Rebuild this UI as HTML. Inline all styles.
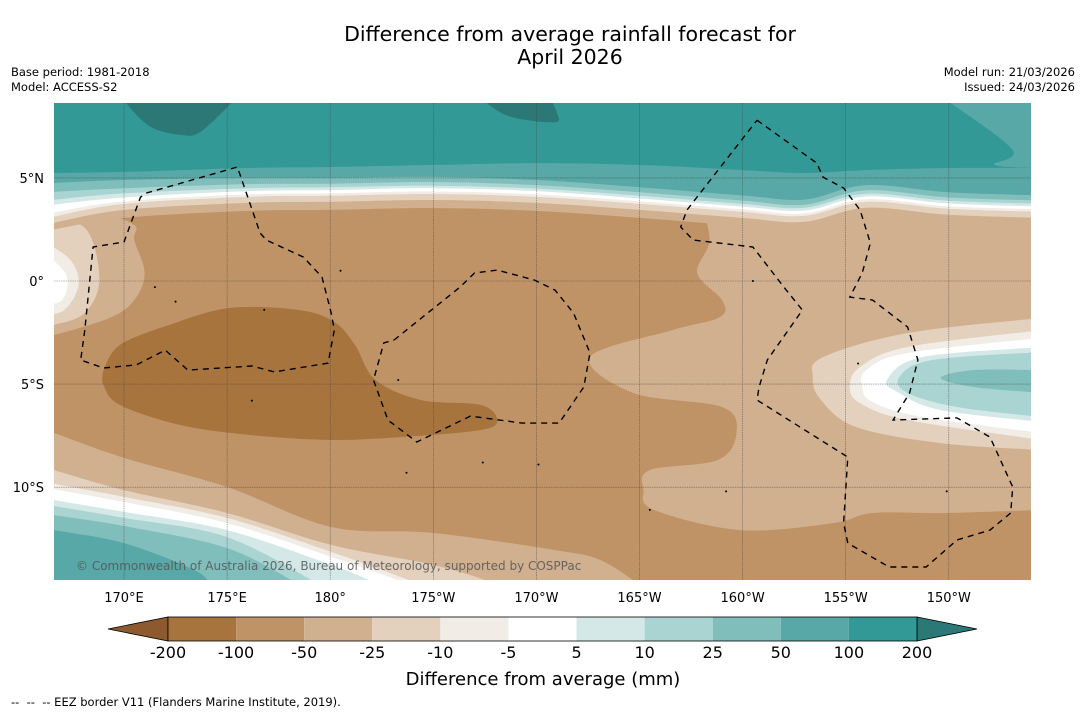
<!DOCTYPE html>
<html><head><meta charset="utf-8">
<style>
body{margin:0;background:#fff;width:1085px;height:713px;overflow:hidden;font-family:"Liberation Sans","DejaVu Sans",sans-serif;}
svg text{font-family:"DejaVu Sans","Liberation Sans",sans-serif;}
</style></head>
<body>
<svg id="chart" width="1085" height="713" xmlns="http://www.w3.org/2000/svg">
<text x="570" y="41" font-size="20.5" text-anchor="middle">Difference from average rainfall forecast for</text>
<text x="570" y="64" font-size="20.5" text-anchor="middle">April 2026</text>
<text x="11" y="76" font-size="11.5">Base period: 1981-2018</text>
<text x="11" y="91" font-size="11.5">Model: ACCESS-S2</text>
<text x="1075" y="76" font-size="11.5" text-anchor="end">Model run: 21/03/2026</text>
<text x="1075" y="91" font-size="11.5" text-anchor="end">Issued: 24/03/2026</text>
<defs><clipPath id="mapclip"><rect x="54" y="103" width="977" height="477"/></clipPath></defs>
<g id="map" clip-path="url(#mapclip)"></g>
<g id="axes"></g>
<g id="cbar"></g>
<text x="543" y="685" font-size="18" text-anchor="middle">Difference from average (mm)</text>
<text x="11" y="706" font-size="11.5" style="white-space:pre">--  --  -- EEZ border V11 (Flanders Marine Institute, 2019).</text>
</svg>
<script>
// ---- data ----
const levels = [-200,-100,-50,-25,-10,-5,5,10,25,50,100,200];
const bandColors = ['#a8743e','#bf9366','#d1b090','#e3d0bd','#f2ece6','#ffffff','#d4e9e7','#a9d4d2','#80bebc','#57a8a6','#339996'];
const lowExtColor = '#8c5a2e';
const highExtColor = '#2a7977';
const darkTeal = '#2b7876';
const gridLons = [170,175,180,185,190,195,200,205,210];
const gridLonLabels = ['170°E','175°E','180°','175°W','170°W','165°W','160°W','155°W','150°W'];
const gridLats = [5,0,-5,-10];
const gridLatLabels = ['5°N','0°','5°S','10°S'];
// north contour lines (lat at sample lons)
const northLons = [166.5,170,176,180,185,190,195,200,203,206,210,214.5];
const north100 = [5.24,5.29,5.48,5.53,5.63,5.72,5.63,5.38,5.24,5.38,5.48,5.48];
const north50  = [4.75,4.9,5.0,5.0,5.05,4.9,4.55,4.15,3.95,4.65,4.3,4.15];
const north25  = [4.32,4.5,4.7,4.72,4.8,4.65,4.3,3.9,3.7,4.4,4.05,3.9];
const north10  = [3.93,4.25,4.5,4.55,4.62,4.48,4.13,3.74,3.55,4.23,3.89,3.74];
const north5   = [3.69,4.05,4.36,4.41,4.5,4.36,4.0,3.61,3.42,4.1,3.76,3.61];
const northM5  = [3.3,3.86,4.2,4.25,4.34,4.2,3.86,3.47,3.28,3.96,3.62,3.47];
const northM10 = [3.1,3.74,4.08,4.13,4.22,4.08,3.74,3.35,3.16,3.84,3.5,3.35];
const northM25 = [2.8,3.45,3.79,3.84,3.93,3.79,3.45,3.06,2.87,3.55,3.21,3.06];
const northM50 = [2.48,3.06,3.4,3.45,3.54,3.4,3.06,2.67,2.48,3.16,2.82,2.67];
// south contour lines [lon,lat]
const southM50 = [[166,-7.2],[166.6,-7.37],[170,-8.58],[175,-9.99],[180.05,-11.93],[185,-12.22],[190.9,-13.05],[193.1,-13.53],[195,-14.74],[195.5,-15.2]];
const southM25 = [[166,-9.0],[166.6,-9.17],[170,-10.14],[175,-11.25],[180.05,-12.8],[185,-13.77],[188.2,-14.74],[189,-15.2]];
const southM10 = [[166,-9.7],[166.6,-9.84],[170,-10.47],[175,-11.49],[180.05,-13.14],[184.4,-14.74],[185,-15.2]];
const southM5  = [[166,-9.95],[166.6,-10.09],[170,-10.72],[175,-11.74],[180.05,-13.38],[183.9,-14.74],[184.5,-15.2]];
const south5   = [[166,-10.5],[166.6,-10.62],[170,-11.2],[175,-12.08],[180.05,-13.77],[182.4,-14.74],[183,-15.2]];
const south10  = [[166,-10.8],[166.6,-10.91],[170,-11.49],[175,-12.42],[179.5,-14.74],[180,-15.2]];
const south25  = [[166,-11.2],[166.6,-11.35],[170,-11.88],[175,-12.95],[178.5,-14.74],[179,-15.2]];
const south50  = [[166,-11.95],[166.6,-12.08],[170,-12.71],[173.4,-14.01],[174.2,-14.74],[174.6,-15.2]];
// west light anomaly
const westM50 = [[166.4,3.69],[168.8,3.35],[170.5,2.71],[170.5,1.99],[171,0.39],[170.5,-0.92],[169.3,-1.79],[166.6,-2.62],[166.0,-2.62]];
const westM25 = [[166.4,3.2],[168.2,2.47],[168.8,0.05],[168.1,-1.55],[166.6,-2.13],[166.0,-2.13]];
const westM10 = [[166.0,1.99],[167.4,1.02],[167.8,-0.19],[167.1,-1.41],[166.0,-1.65]];
const westM5  = [[166.0,1.5],[167.2,0.29],[167.0,-0.92],[166.0,-1.16]];
// dark brown core
const coreM100 = [[169.0,-4.32],[169.8,-3.1],[172.2,-2.13],[175.1,-1.31],[178.5,-1.41],[180.2,-1.99],[181.2,-3.1],[182.2,-4.8],[184.4,-5.77],[187.3,-6.01],[188.1,-6.74],[187.3,-7.23],[183.4,-7.57],[180,-7.71],[176.1,-7.47],[172.7,-6.98],[169.8,-6.01],[169.0,-5.04]];
// east light region
const eastM50 = [[197.9,3.93],[198.4,1.99],[197.8,0.39],[199.0,-0.92],[198.9,-1.75],[196.6,-2.38],[192.6,-3.69],[194.7,-5.43],[199.0,-6.11],[199.7,-7.37],[198.8,-8.68],[195.5,-9.17],[195.2,-10.14],[195.7,-11.1],[199.9,-12.08],[204.4,-11.74],[206.3,-11.25],[209.9,-11.25],[214.5,-11.1]];
// east wet anomaly
const eastM25 = [[214.5,-1.79],[208,-2.52],[203.9,-3.69],[203.4,-4.66],[203.8,-5.77],[205.5,-7.08],[209.6,-7.86],[214.5,-8.2]];
const eastM10 = [[214.5,-2.38],[208,-3.2],[205.7,-4.17],[205.2,-5.14],[205.7,-5.92],[208,-6.74],[214.5,-7.71]];
const eastM5  = [[214.5,-2.76],[208,-3.49],[206,-4.32],[205.8,-5.14],[206.3,-5.87],[208.7,-6.6],[214.5,-7.37]];
const east5   = [[214.5,-3.2],[208.7,-3.69],[207,-4.8],[207.6,-5.43],[209.6,-6.26],[214.5,-6.84]];
const east10  = [[214.5,-3.44],[209.2,-3.83],[207.6,-4.66],[208,-5.43],[210.4,-6.11],[214.5,-6.6]];
const east25  = [[214.5,-4.32],[211.2,-4.32],[209.6,-4.7],[211.2,-5.14],[214.5,-5.43]];
// top patches
const topRight50 = [[209.5,9],[210.1,8.63],[213.1,6.35],[212.2,5.63],[214.5,5.48]];
const darkPatch1 = [[170.0,9],[170.1,8.63],[171.3,7.47],[172.8,7.08],[173.7,7.23],[175.2,8.63],[175.3,9]];
const darkPatch2 = [[187.5,9],[187.6,8.63],[188.8,7.95],[190.9,7.7],[191,8.15],[190.8,8.63],[190.8,9]];
// EEZ borders
const eezA = [[168.1,-2.38],[167.9,-3.83],[169,-4.22],[170.6,-4.07],[172,-3.35],[173.1,-4.32],[176.2,-4.12],[177.3,-4.41],[179.9,-3.98],[180.2,-2.38],[180.05,-1.55],[179.6,0.19],[178.7,1.16],[176.9,1.99],[176.6,2.33],[175.5,5.53],[171.1,4.27],[170.8,4.07],[170,1.89],[168.5,1.65],[168.1,-2.38]];
const eezB = [[183.1,-2.86],[186.3,-0.29],[187,0.39],[188.1,0.53],[189.9,0.05],[190.9,-0.44],[191.8,-1.55],[192.6,-3.49],[192.3,-5.14],[191.1,-6.89],[189.3,-6.89],[186.8,-6.55],[184.2,-7.81],[182.8,-6.74],[182.1,-4.8],[182.6,-3.0],[183.1,-2.86]];
const eezC = [[200.7,7.8],[203.6,5.72],[203.9,5.04],[204.9,4.51],[205.7,3.44],[206.2,1.84],[205.8,0.39],[205.2,-0.78],[206.3,-0.92],[208,-2.23],[208.5,-3.83],[208.1,-5.43],[207.3,-6.74],[210.4,-6.64],[212,-7.57],[213.1,-9.99],[213,-11.25],[212,-12.08],[210.4,-12.56],[208.9,-13.87],[207.1,-13.87],[205.1,-12.71],[204.9,-11.74],[205.1,-8.54],[200.7,-5.77],[200.8,-5.14],[201.2,-3.83],[202.9,-1.41],[202,-0.29],[200.5,1.65],[197.6,1.99],[197,2.62],[197.3,3.44],[200.7,7.8]];
const islands = [[180.5,0.5],[183.3,-4.8],[190.1,-8.9],[195.5,-11.1],[199.2,-10.2],[205.6,-4.0],[200.5,0.0],[172.5,-1.0],[171.5,-0.3],[176.2,-5.8],[183.7,-9.3],[209.9,-10.2],[187.4,-8.8],[176.8,-1.4]];

// ---- axis functions ----
function X(lon){return 124+(lon-170)*20.62;}
function Y(lat){return 281-lat*20.62;}
const NS='http://www.w3.org/2000/svg';
const map=document.getElementById('map');
const axes=document.getElementById('axes');
const cbar=document.getElementById('cbar');
function mk(tag,attrs,parent){const e=document.createElementNS(NS,tag);for(const k in attrs)e.setAttribute(k,attrs[k]);parent.appendChild(e);return e;}
function smooth(p){
  let d='M'+p[0][0].toFixed(1)+','+p[0][1].toFixed(1);
  for(let i=0;i<p.length-1;i++){
    const p0=p[i-1]||p[i],p1=p[i],p2=p[i+1],p3=p[i+2]||p2;
    const c1=[p1[0]+(p2[0]-p0[0])/6,p1[1]+(p2[1]-p0[1])/6];
    const c2=[p2[0]-(p3[0]-p1[0])/6,p2[1]-(p3[1]-p1[1])/6];
    d+='C'+c1[0].toFixed(1)+','+c1[1].toFixed(1)+' '+c2[0].toFixed(1)+','+c2[1].toFixed(1)+' '+p2[0].toFixed(1)+','+p2[1].toFixed(1);
  }
  return d;
}
function proj(ll){return ll.map(q=>[X(q[0]),Y(q[1])]);}
function area(ll,extra,color,name){
  let d=smooth(proj(ll));
  extra.forEach(q=>{d+='L'+X(q[0]).toFixed(1)+','+Y(q[1]).toFixed(1);});
  d+='Z';
  const e=mk('path',{d:d,fill:color},map);
  
  
}
function northLine(lats){return northLons.map((lo,i)=>[lo,lats[i]]);}

const bg=mk('rect',{x:54,y:103,width:977,height:477,fill:bandColors[1]},map);



area(eastM50,[[214.5,4.5],[197.9,4.5]],bandColors[2],'east-dry-region');
area(coreM100.concat([coreM100[0]]),[],bandColors[0],'core-very-dry-region');
area(westM50,[[166.0,4.5]],bandColors[2],'west-band-m50');
area(westM25,[[166.0,4.5]],bandColors[3],'west-band-m25');
area(westM10,[],bandColors[4],'west-band-m10');
area(westM5,[],bandColors[5],'west-band-m5');

area(eastM25,[],bandColors[3],'east-band-m25');
area(eastM10,[],bandColors[4],'east-band-m10');
area(eastM5,[],bandColors[5],'east-band-m5');
area(east5,[],bandColors[6],'east-band-5');
area(east10,[],bandColors[7],'east-band-10');
area(east25,[],bandColors[8],'east-band-25');

const northSets=[[northM50,2],[northM25,3],[northM10,4],[northM5,5],[north5,6],[north10,7],[north25,8],[north50,9],[north100,10]];
northSets.forEach(s=>{area(northLine(s[0]),[[214.5,9.5],[166.5,9.5]],bandColors[s[1]],'north-band-'+levels[s[1]]);});
area(topRight50,[[214.5,9.5]],bandColors[9],'north-east-band-50');
area(darkPatch1,[],darkTeal,'north-band-200-patch1');
area(darkPatch2,[],darkTeal,'north-band-200-patch2');

const southSets=[[southM50,2],[southM25,3],[southM10,4],[southM5,5],[south5,6],[south10,7],[south25,8],[south50,9]];
southSets.forEach(s=>{const L=s[0];area(L,[[L[L.length-1][0],-16],[166,-16]],bandColors[s[1]],'south-band-'+levels[s[1]]);});

gridLons.forEach((lo,i)=>{
  const l=mk('line',{x1:X(lo),x2:X(lo),y1:103,y2:580,stroke:'#444','stroke-width':0.6,'stroke-opacity':0.7,'stroke-dasharray':'1.5,0.8'},map);
  
  
  const t=mk('text',{x:X(lo),y:602,'font-size':13,'text-anchor':'middle'},axes);
  t.textContent=gridLonLabels[i];
  
  
});
gridLats.forEach((la,i)=>{
  const l=mk('line',{x1:54,x2:1031,y1:Y(la),y2:Y(la),stroke:'#444','stroke-width':0.6,'stroke-opacity':0.7,'stroke-dasharray':'1.5,0.8'},map);
  
  
  const t=mk('text',{x:44,y:Y(la)+5,'font-size':13,'text-anchor':'end'},axes);
  t.textContent=gridLatLabels[i];
  
  
});

[eezA,eezB,eezC].forEach(L=>{
  const p=mk('polyline',{points:proj(L).map(q=>q[0].toFixed(1)+','+q[1].toFixed(1)).join(' '),fill:'none',stroke:'#000','stroke-width':1.4,'stroke-dasharray':'6,5'},map);
  
  
});
islands.forEach(q=>{
  const c=mk('circle',{cx:X(q[0]),cy:Y(q[1]),r:1,fill:'#000'},map);
  
  
});
const cr=mk('text',{x:76,y:570,'font-size':12,fill:'#555','fill-opacity':0.85},map);
cr.textContent='© Commonwealth of Australia 2026, Bureau of Meteorology, supported by COSPPac';



const cbX0=168,cbW=68.09,cbY=617,cbH=24;
function CB(i){return cbX0+i*cbW;}
const la=mk('polygon',{points:`${CB(0)},${cbY} ${CB(0)},${cbY+cbH} 108,${cbY+cbH/2}`,fill:lowExtColor,stroke:'#000','stroke-width':0.8},cbar);


const n=levels.length-1;
const ra=mk('polygon',{points:`${CB(n)},${cbY} ${CB(n)},${cbY+cbH} 977,${cbY+cbH/2}`,fill:highExtColor,stroke:'#000','stroke-width':0.8},cbar);


bandColors.forEach((c,i)=>{
  const r=mk('rect',{x:CB(i),y:cbY,width:cbW,height:cbH,fill:c},cbar);
  
  
});
const ob=mk('rect',{x:CB(0),y:cbY,width:CB(n)-CB(0),height:cbH,fill:'none',stroke:'#000','stroke-width':0.8},cbar);


levels.forEach((v,i)=>{
  const t=mk('text',{x:CB(i),y:658,'font-size':16,'text-anchor':'middle'},cbar);
  t.textContent=String(v);
  
  
});
</script>
</body></html>
